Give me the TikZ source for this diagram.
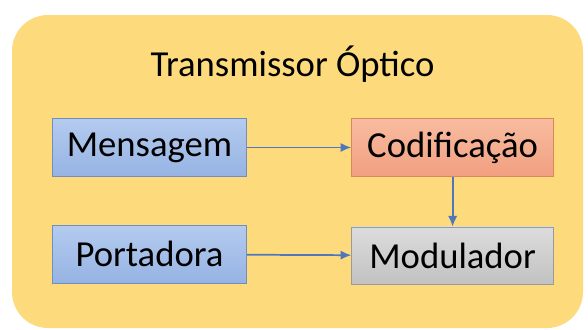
\documentclass[tikz,border=0pt]{standalone}
\usepackage{fontspec}
\setmainfont{Carlito}
\usepackage{xcolor}
\usetikzlibrary{positioning, arrows.meta}

\definecolor{fundo}{HTML}{FDDB7C}
\definecolor{azulA}{HTML}{B4CBEF}
\definecolor{azulB}{HTML}{96B3E3}
\definecolor{azulBorda}{HTML}{6F8FBF}
\definecolor{salmaoA}{HTML}{F8BCA0}
\definecolor{salmaoB}{HTML}{F29F80}
\definecolor{salmaoBorda}{HTML}{D9875E}
\definecolor{cinzaA}{HTML}{DCDCDC}
\definecolor{cinzaB}{HTML}{C2C2C2}
\definecolor{cinzaBorda}{HTML}{9A9A9A}
\definecolor{seta}{HTML}{4F78BC}

\tikzset{
  bloco/.style={draw, line width=0.6pt, minimum height=43pt, inner sep=0pt,
    font=\fontsize{27.5}{33}\selectfont},
  entrada/.style={bloco, minimum width=146pt, draw=azulBorda, top color=azulA, bottom color=azulB},
  codif/.style={bloco, minimum width=151.5pt, draw=salmaoBorda, top color=salmaoA, bottom color=salmaoB},
  modul/.style={bloco, minimum width=151.5pt, draw=cinzaBorda, top color=cinzaA, bottom color=cinzaB}
}

\begin{document}
\begin{tikzpicture}[x=0.75pt, y=-0.75pt]
        \useasboundingbox (0,0) rectangle (588,329);
        \fill[fundo, rounded corners=27pt] (12,15) rectangle (583,328);

        \node[font=\fontsize{27.5}{33}\selectfont] (titulo) at (292.5,64) {Transmissor Óptico};

        \node[entrada] (msg) at (149.5,147.5) {Mensagem};
        \node[codif] (cod) [right=78pt of msg] {Codificação};
        \node[entrada] (port) [below=36.5pt of msg] {Portadora};
        \node[modul] (mod) [below=37.5pt of cod] {Modulador};

        \path[-{Latex[length=8pt, width=7pt]}, seta, line width=1.3pt]
        (msg) edge (cod)
        (cod) edge (mod)
        (port) edge (mod);
\end{tikzpicture}
\end{document}
